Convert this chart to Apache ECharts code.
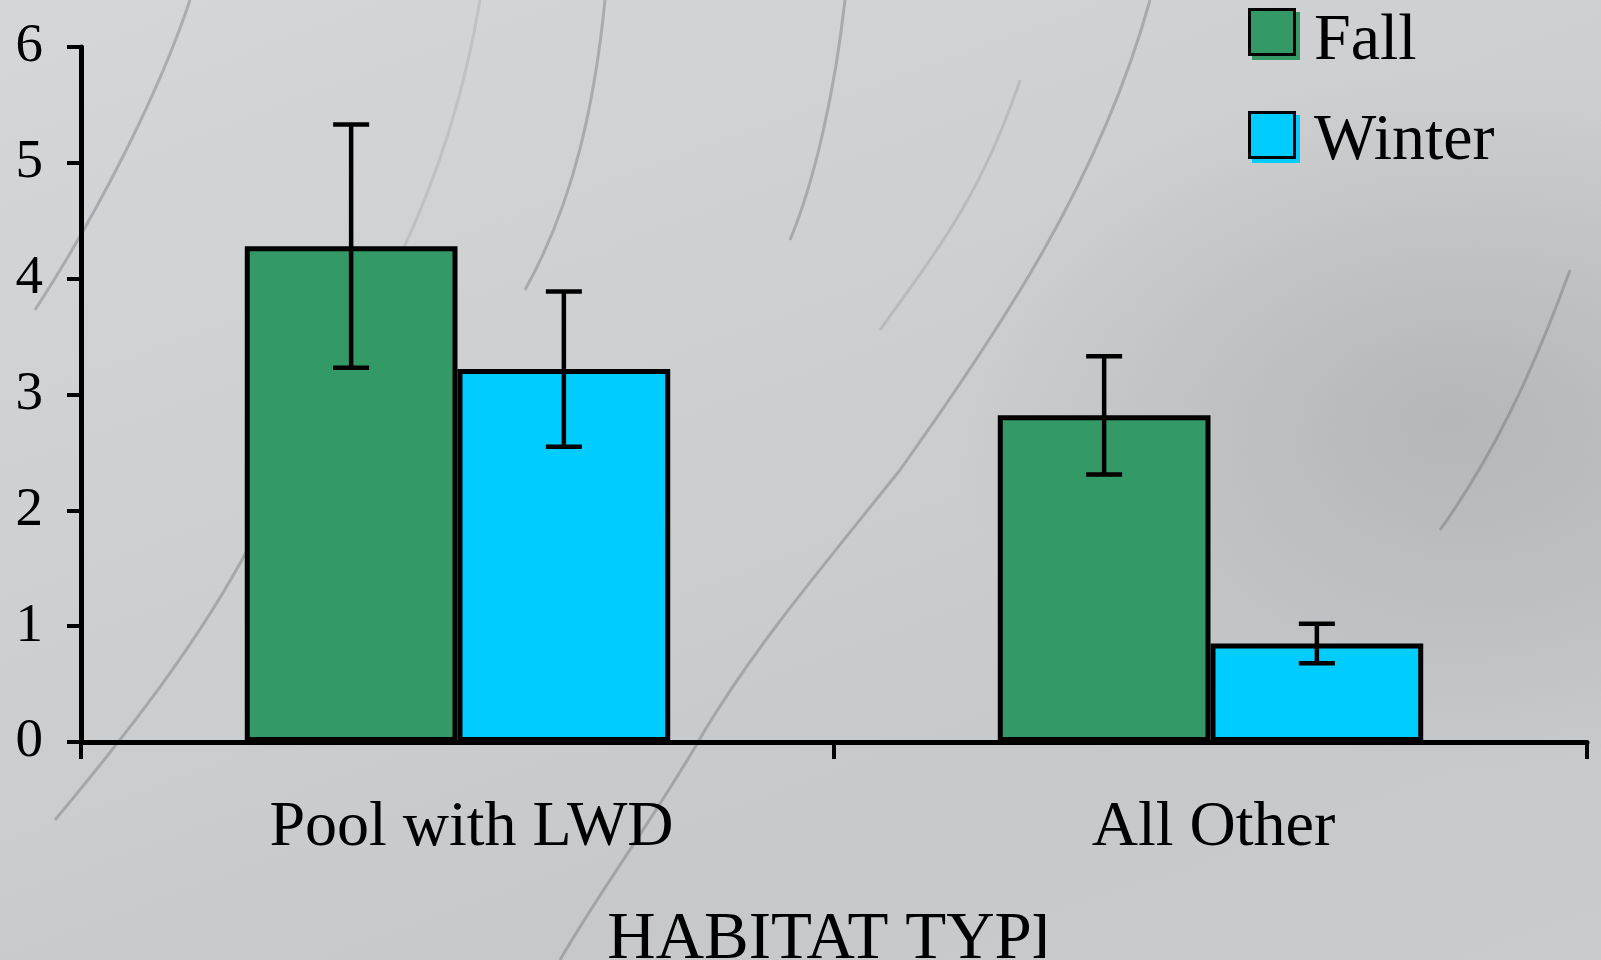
<!DOCTYPE html>
<html>
<head>
<meta charset="utf-8">
<script src="https://cdn.jsdelivr.net/npm/echarts@6/dist/echarts.min.js"></script>
<style>
  html,body{margin:0;padding:0;width:1601px;height:960px;overflow:hidden;}
  #chart{position:absolute;left:0;top:0;width:1601px;height:960px;}
  #clip{position:absolute;left:1045px;top:880px;width:556px;height:80px;z-index:5;}
</style>
</head>
<body>
<div id="chart"></div>
<div id="clip"></div>
<script>
// values
const categories = ['Pool with LWD', 'All Other'];
const seriesNames = ['Fall', 'Winter'];
const fallValues = [4.28, 2.82];
const winterValues = [3.22, 0.85];
const fallErr = [1.05, 0.51];
const winterErr = [0.67, 0.17];
const yTicks = [0, 1, 2, 3, 4, 5, 6];

const GREEN = '#339966', BLUE = '#00ccff';
const FONT = 'Liberation Serif';
const CAT_GAP = 0.435;
const labelNudge = [28, 6]; // labels sit a little right of centre in the original

// marble-ish backdrop, shared by page and the little clip box (fixed attachment)
const svg = `<svg xmlns="http://www.w3.org/2000/svg" width="1601" height="960">
<g fill="none" stroke="rgb(95,97,102)" stroke-opacity="0.35" stroke-width="3">
<path d="M190 0 C160 90 100 210 35 310"/>
<path d="M250 545 C200 640 130 730 55 820"/>
<path d="M605 0 C595 100 575 200 525 290"/>
<path d="M1150 0 C1100 180 1000 330 900 470 C820 570 760 640 705 730 C660 810 600 890 560 960"/>
<path d="M845 0 C835 90 815 180 790 240"/>
<path d="M1570 270 C1530 380 1490 460 1440 530"/>
<path d="M1020 80 C980 200 930 260 880 330" stroke-opacity="0.18"/>
<path d="M480 0 C460 120 420 230 360 330" stroke-opacity="0.15"/>
</g></svg>`;
const bg = `url("data:image/svg+xml,${encodeURIComponent(svg)}"), ` +
  'radial-gradient(ellipse 500px 350px at 1450px 420px, rgba(150,152,156,0.4), rgba(150,152,156,0) 100%), ' +
  'linear-gradient(160deg, #d4d6d7 0%, #cccecf 45%, #c6c8ca 75%, #c9cbcd 100%)';
[document.body, document.getElementById('clip')].forEach(el => {
  el.style.background = bg;
  el.style.backgroundAttachment = 'fixed';
});

function errRender(sign){
  return (params, api) => {
    const i = api.value(0), v = api.value(1), e = api.value(2);
    const bw = api.size([1, 0])[0] * (1 - CAT_GAP) / 2;
    const x = api.coord([i, v])[0] + sign * bw / 2;
    const top = api.coord([i, v + e])[1], bot = api.coord([i, v - e])[1];
    const hw = 18, st = {stroke:'#000', lineWidth:4.5};
    return {type:'group', children:[
      {type:'line', shape:{x1:x, y1:top, x2:x, y2:bot}, style:st},
      {type:'line', shape:{x1:x-hw, y1:top, x2:x+hw, y2:top}, style:st},
      {type:'line', shape:{x1:x-hw, y1:bot, x2:x+hw, y2:bot}, style:st}
    ]};
  };
}

const chart = echarts.init(document.getElementById('chart'), null, {renderer:'canvas'});
chart.setOption({
  backgroundColor: 'transparent',
  animation: false,
  textStyle: {fontFamily: FONT, color:'#000'},
  grid: {left:81, right:14, top:47, bottom:218, containLabel:false, outerBoundsMode:'none'},
  // legend draws the swatches; names are set as text beside them
  legend: {
    orient:'vertical', left:1248, top:8, padding:0, itemWidth:45, itemHeight:45, itemGap:55,
    icon:'rect', selectedMode:false, formatter:() => '',
    textStyle:{fontSize:1, padding:0},
    itemStyle:{borderColor:'#000', borderWidth:3, shadowBlur:0, shadowOffsetX:4, shadowOffsetY:4},
    data:[
      {name:seriesNames[0], itemStyle:{shadowColor:GREEN}},
      {name:seriesNames[1], itemStyle:{shadowColor:BLUE}}
    ]
  },
  graphic: seriesNames.map((n, i) => ({
    type:'text', left:1314, top:9 + i * 100,
    style:{text:n, font:`66px "${FONT}"`, fill:'#000'}
  })),
  xAxis: {
    type:'category',
    data: categories.map((c, i) => ({value:c, textStyle:{padding:[0,0,0,labelNudge[i]]}})),
    name:'HABITAT TYPE', nameLocation:'middle', nameGap:165,
    nameTextStyle:{fontFamily:FONT, fontSize:67, color:'#000', padding:[0,0,0,12]},
    axisLine:{lineStyle:{color:'#000', width:5}},
    axisTick:{show:true, length:17, lineStyle:{color:'#000', width:4}},
    axisLabel:{fontFamily:FONT, fontSize:64, color:'#000', margin:54},
    splitLine:{show:false}
  },
  yAxis: {
    type:'value', min:yTicks[0], max:yTicks[yTicks.length-1], interval:1,
    axisLine:{show:true, lineStyle:{color:'#000', width:5}},
    axisTick:{show:true, length:14, lineStyle:{color:'#000', width:4}},
    axisLabel:{fontFamily:FONT, fontSize:55, color:'#000', margin:38},
    splitLine:{show:false}
  },
  series: [
    {name:seriesNames[0], type:'bar', data:fallValues, barGap:'0%', barCategoryGap:(CAT_GAP*100)+'%',
     itemStyle:{color:GREEN, borderColor:'#000', borderWidth:5}, z:2},
    {name:seriesNames[1], type:'bar', data:winterValues,
     itemStyle:{color:BLUE, borderColor:'#000', borderWidth:5}, z:2},
    {name:'Fall err', type:'custom', renderItem:errRender(-1), encode:{x:0, y:1}, z:5,
     data:fallValues.map((v, i) => [i, v, fallErr[i]])},
    {name:'Winter err', type:'custom', renderItem:errRender(1), encode:{x:0, y:1}, z:5,
     data:winterValues.map((v, i) => [i, v, winterErr[i]])}
  ]
});
</script>
</body>
</html>
